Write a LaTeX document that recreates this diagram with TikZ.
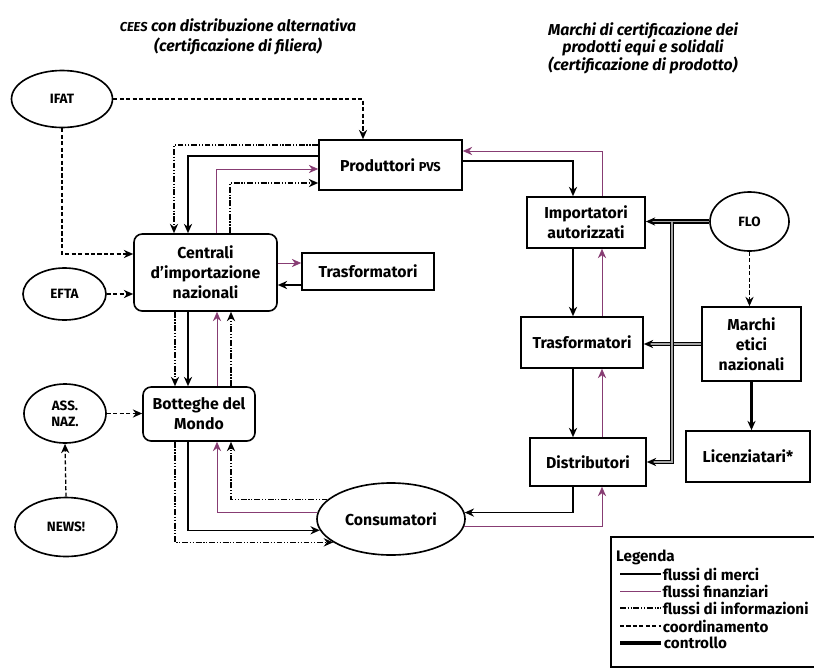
\documentclass[tikz,border=0pt]{standalone}
\usepackage{fontspec}
\setmainfont{Fira Sans}
\usetikzlibrary{shapes.geometric,arrows.meta}
\definecolor{finanza}{RGB}{135,60,115}

\begin{document}
\begin{tikzpicture}[x=0.03cm,y=-0.03cm,>={Stealth[length=8pt,width=7pt]},
  every node/.style={font=\bfseries\fontsize{13.5}{17}\selectfont, align=center},
  box/.style={draw, line width=1.4pt, inner sep=2pt},
  tondo/.style={box, rounded corners=7pt},
  ovale/.style={draw, line width=1.4pt, ellipse, inner sep=0pt, font=\bfseries\fontsize{11.5}{13.5}\selectfont},
  merci/.style={line width=1.2pt},
  fin/.style={line width=0.7pt, finanza},
  info/.style={line width=1.1pt, dash pattern=on 5pt off 1.5pt on 1pt off 1.5pt on 1pt off 1.5pt},
  coord/.style={line width=1.1pt, dash pattern=on 3.5pt off 2pt},
  contr/.style={line width=1.3pt, double=gray!70, double distance=1.6pt},
  spesso/.style={line width=3pt},
  legtxt/.style={font=\bfseries\fontsize{13}{14}\selectfont, text=black}]
  \useasboundingbox (0,0) rectangle (814,669);

  % Titoli
  \node[font=\bfseries\itshape\fontsize{13.5}{17.5}\selectfont] (titoloA) at (238,37)
    {{\fontsize{11}{12}\selectfont CEES} con distribuzione alternativa\\(certificazione di filiera)};
  \node[font=\bfseries\itshape\fontsize{13.5}{15}\selectfont] (titoloB) at (643,48)
    {Marchi di certificazione dei\\prodotti equi e solidali\\(certificazione di prodotto)};

  % Filiera
  \node[ovale, minimum width=3.03cm, minimum height=1.71cm] (ifat) at (62,99) {IFAT};
  \node[box, minimum width=4.29cm, minimum height=1.5cm] (prod) at (390.5,165)
    {Produttori {\fontsize{11}{12}\selectfont PVS}};
  \node[tondo, minimum width=4.29cm, minimum height=2.31cm] (centrali) at (205.5,272.5)
    {Centrali\\d’importazione\\nazionali};
  \node[box, minimum width=3.96cm, minimum height=1.11cm] (trasfL) at (368,271.5) {Trasformatori};
  \node[ovale, minimum width=2.49cm, minimum height=1.56cm] (efta) at (64.5,294) {EFTA};
  \node[tondo, minimum width=3.36cm, minimum height=1.62cm] (botteghe) at (199,414) {Botteghe del\\Mondo};
  \node[ovale, minimum width=2.46cm, minimum height=1.77cm] (ass) at (65,413.5) {ASS.\\NAZ.};
  \node[ovale, minimum width=3.06cm, minimum height=1.77cm] (news) at (66,527) {NEWS!};
  \node[ovale, minimum width=4.44cm, minimum height=2.16cm, font=\bfseries\fontsize{13.5}{17}\selectfont]
    (consum) at (391,519) {Consumatori};

  % Certificazione di prodotto
  \node[box, minimum width=3.54cm, minimum height=1.53cm] (import) at (586,222.5) {Importatori\\autorizzati};
  \node[box, minimum width=3.66cm, minimum height=1.53cm] (trasfR) at (582,342.5) {Trasformatori};
  \node[box, minimum width=3.48cm, minimum height=1.44cm] (distr) at (588,462) {Distributori};
  \node[ovale, minimum width=2.37cm, minimum height=1.77cm] (flo) at (749.5,221.5) {FLO};
  \node[box, minimum width=2.97cm, minimum height=2.22cm] (marchi) at (751.5,344) {Marchi\\etici\\nazionali};
  \node[box, minimum width=3.72cm, minimum height=1.53cm] (licenz) at (748,456.5) {Licenziatari*};

  % Produttori <-> Centrali
  \draw[info,->] (prod.west |- 0,145) -| (174,0 |- centrali.north);
  \draw[merci,->] (prod.west |- 0,156) -| (188,0 |- centrali.north);
  \draw[fin,->] (216,0 |- centrali.north) |- (prod.west |- 0,169);
  \draw[info,->] (230,0 |- centrali.north) |- (prod.west |- 0,183);

  % Centrali <-> Botteghe
  \draw[info,->] (175,0 |- centrali.south) -- (175,0 |- botteghe.north);
  \draw[merci,->] (188,0 |- centrali.south) -- (188,0 |- botteghe.north);
  \draw[fin,->] (217,0 |- botteghe.north) -- (217,0 |- centrali.south);
  \draw[info,->] (231,0 |- botteghe.north) -- (231,0 |- centrali.south);

  % Centrali <-> Trasformatori
  \draw[fin,->] (centrali.east |- 0,263) -- (trasfL.west |- 0,263);
  \draw[merci,->] (trasfL.west |- 0,285) -- (centrali.east |- 0,285);

  % Botteghe <-> Consumatori
  \draw[info,->] (175,0 |- botteghe.south) |- (consum.202);
  \draw[merci,->] (188,0 |- botteghe.south) |- (consum.189);
  \draw[fin,->] (consum.175) -| (217,0 |- botteghe.south);
  \draw[info,->] (consum.163) -| (231,0 |- botteghe.south);

  % Coordinamento
  \draw[coord,->] (ifat.east) -| (363,0 |- prod.north);
  \draw[coord,->] (ifat.south) |- (centrali.west |- 0,254);
  \draw[coord,->] (efta.east) -- (centrali.west |- efta.east);
  \draw[coord,->] (ass.east) -- (botteghe.west |- ass.east);
  \draw[coord,->] (news.north) -- (ass.south);

  % Filiera certificata
  \draw[merci,->] (prod.east |- 0,161) -| (573,0 |- import.north);
  \draw[fin,->] (602,0 |- import.north) |- (prod.east |- 0,151);
  \draw[merci,->] (573,0 |- import.south) -- (573,0 |- trasfR.north);
  \draw[fin,->] (602,0 |- trasfR.north) -- (602,0 |- import.south);
  \draw[merci,->] (573,0 |- trasfR.south) -- (573,0 |- distr.north);
  \draw[fin,->] (602,0 |- distr.north) -- (602,0 |- trasfR.south);
  \draw[merci,->] (573,0 |- distr.south) |- (consum.5);
  \draw[fin,->] (consum.354) -| (602,0 |- distr.south);

  % Controllo
  \draw[contr,->] (marchi.west) -- (trasfR.east |- marchi.west);
  \draw[contr,->] (flo.west) -- (import.east |- flo.west);
  \draw[contr,->] (672,0 |- flo.west) |- (distr.east);
  \draw[coord,->] (flo.south) -- (flo.south |- marchi.north);
  \draw[spesso,->] (marchi.south) -- (marchi.south |- licenz.north);

  % Legenda
  \draw[line width=1.4pt] (814,537) -- (611,537) -- (611,667) -- (814,667);
  \node[legtxt, anchor=west] (legenda) at (612,557) {Legenda};
  \foreach \y/\stile/\testo [count=\i] in {574/merci/flussi di merci, 591/fin/flussi finanziari,
      608/info/flussi di informazioni, 626/coord/coordinamento, 643/spesso/controllo}
    \draw[\stile] (620,\y) -- (661,\y) node[legtxt, right, inner sep=1pt] (voce\i) {\testo};
\end{tikzpicture}
\end{document}
